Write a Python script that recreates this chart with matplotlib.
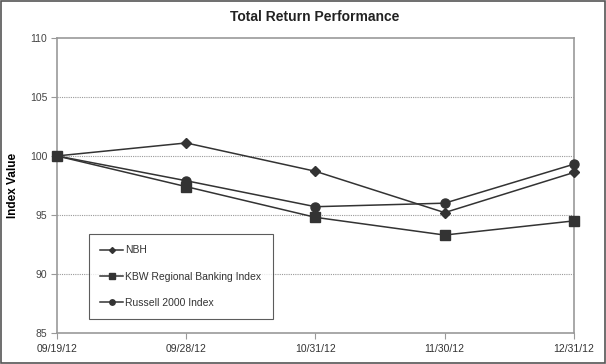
import matplotlib
matplotlib.use("Agg")
import matplotlib.pyplot as plt
from matplotlib.patches import Rectangle

plt.rcParams["font.family"] = ["Liberation Sans", "DejaVu Sans"]

# ── Data ──
dates = ["09/19/12", "09/28/12", "10/31/12", "11/30/12", "12/31/12"]
nbh = [100.0, 101.1, 98.7, 95.2, 98.6]
kbw = [100.0, 97.4, 94.8, 93.3, 94.5]
russell = [100.0, 97.9, 95.7, 96.0, 99.3]
series_names = ["NBH", "KBW Regional Banking Index", "Russell 2000 Index"]
y_ticks = [85, 90, 95, 100, 105, 110]

LINE = "#333333"
GRID = "#999999"

fig = plt.figure(figsize=(6.06, 3.64), dpi=100)
ax = fig.add_axes([0.094, 0.085, 0.853, 0.811])

x = list(range(len(dates)))
ax.plot(x, nbh, color=LINE, lw=1.1, marker="D", ms=5, label=series_names[0], clip_on=False, zorder=3)
ax.plot(x, kbw, color=LINE, lw=1.1, marker="s", ms=6.5, label=series_names[1], clip_on=False, zorder=3)
ax.plot(x, russell, color=LINE, lw=1.1, marker="o", ms=6.5, label=series_names[2], clip_on=False, zorder=3)

ax.set_xlim(0, len(dates) - 1)
ax.set_ylim(85, 110)
ax.set_xticks(x)
ax.set_xticklabels(dates, fontsize=7.5, color="#333333")
ax.set_yticks(y_ticks)
ax.set_yticklabels([str(t) for t in y_ticks], fontsize=7.5, color="#444444")
ax.tick_params(axis="x", direction="out", length=4, width=0.8, color=GRID, pad=4)
ax.tick_params(axis="y", direction="out", length=4, width=0.8, color=GRID, pad=3)

for t in y_ticks[1:-1]:
    ax.axhline(t, color=GRID, lw=0.8, ls=(0, (1, 1)), zorder=0)
for s in ax.spines.values():
    s.set_color(GRID)
    s.set_linewidth(1.2)

ax.set_ylabel("Index Value", fontsize=8.5, fontweight="bold")
ax.yaxis.set_label_coords(-0.074, 0.5)
fig.text(0.52, 0.953, "Total Return Performance", ha="center", va="center",
         fontsize=10, fontweight="bold", color="#222222")

leg = ax.legend(loc="upper left", bbox_to_anchor=(89 / 606, 1 - 234 / 364),
                bbox_transform=fig.transFigure, fontsize=7.5, frameon=True,
                fancybox=False, edgecolor="#333333", markerscale=0.6,
                labelspacing=1.55, handlelength=2.2, handletextpad=0.2,
                borderpad=1.1, borderaxespad=0)
leg.get_frame().set_linewidth(0.8)
for txt in leg.get_texts():
    txt.set_color("#333333")

# outer border
fig.patches.append(Rectangle((0.002, 0.003), 0.996, 0.994, transform=fig.transFigure,
                             fill=False, edgecolor="#555555", lw=1.2))

fig.savefig("out.png", dpi=100)
